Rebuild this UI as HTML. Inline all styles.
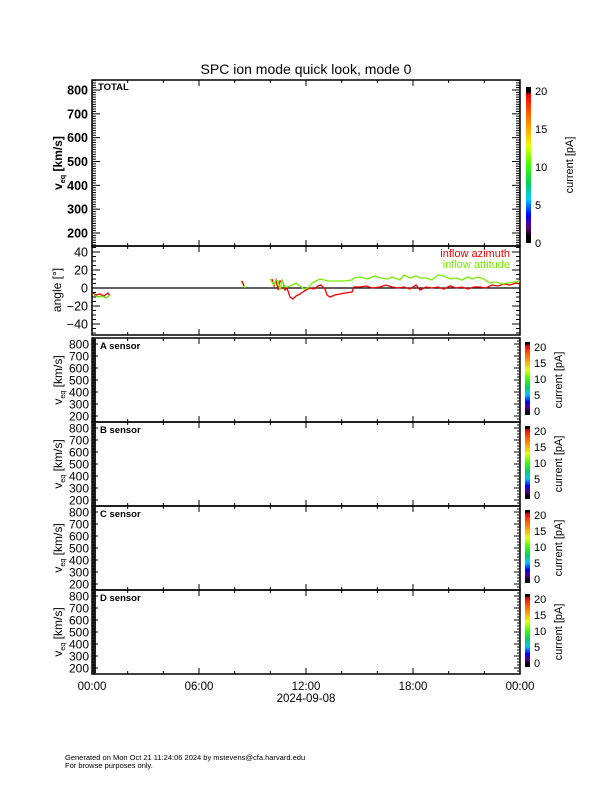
<!DOCTYPE html>
<html><head><meta charset="utf-8"><style>
body{margin:0;background:#fff}
svg{display:block;font-family:"Liberation Sans",Helvetica,sans-serif}
</style></head><body>
<svg id="s" width="612" height="792" viewBox="0 0 612 792" xmlns="http://www.w3.org/2000/svg">
<defs>
<linearGradient id="cb" x1="0" y1="1" x2="0" y2="0">
<stop offset="0" stop-color="#000"/>
<stop offset="0.04" stop-color="#000"/>
<stop offset="0.1" stop-color="#5a007a"/>
<stop offset="0.18" stop-color="#0000ff"/>
<stop offset="0.28" stop-color="#00c8ff"/>
<stop offset="0.38" stop-color="#00d060"/>
<stop offset="0.5" stop-color="#40ff00"/>
<stop offset="0.62" stop-color="#e8ff00"/>
<stop offset="0.72" stop-color="#ffb000"/>
<stop offset="0.85" stop-color="#ff5000"/>
<stop offset="0.95" stop-color="#ee0000"/>
<stop offset="0.97" stop-color="#000"/>
<stop offset="1" stop-color="#000"/>
</linearGradient>
</defs>
<text x="306" y="74" font-size="14" text-anchor="middle">SPC ion mode quick look, mode 0</text>
<g id="g" stroke="#000" fill="none"></g>
<g id="t" font-size="12.5" fill="#000"></g>
<line x1="92" y1="288" x2="520" y2="288" stroke="#000" stroke-width="1.2"/>
<polyline fill="none" stroke="#ee0000" stroke-width="1.3" points="93,293 96,295 100,294 104,296 108,293 110,296"/>
<polyline fill="none" stroke="#66dd00" stroke-width="1.3" points="94,295 98,297 102,296 106,298 110,295"/>
<polyline fill="none" stroke="#ee0000" stroke-width="1.3" points="272,279 274,286 276,280 278,290 280,281 283,282 285,290 287,288 290,297 293,299 296,296 300,294 303,292 306,290 310,288 314,289 318,286 321,285 325,289 327,295 330,297 335,295 340,294 345,293 352,292 354,287 360,287 366,286 372,288 380,287 386,285 392,287 398,288 404,287 410,289 416,285 420,290 426,287 432,288 438,287 444,289 450,286 456,288 462,287 468,289 474,287 480,287 486,288 492,285 498,286 504,284 510,285 516,283 520,284"/>
<polyline fill="none" stroke="#77ee00" stroke-width="1.3" points="270,279 274,285 276,280 278,281 280,290 282,280 285,287 288,287 292,285 296,283 300,286 304,289 308,288 312,283 316,281 320,279 324,280 328,281 336,281 344,281 352,280 354,278 360,277 368,279 374,276 380,278 388,279 392,277 400,280 404,275 410,278 416,276 420,278 426,278 432,280 438,275 444,276 450,279 456,278 462,280 468,277 472,279 478,277 484,279 490,283 496,282 502,284 508,283 514,282 520,281"/>
<polyline fill="none" stroke="#77ee00" stroke-width="1.3" points="241,281 243,284 245,288"/>
<polyline fill="none" stroke="#ee0000" stroke-width="1.3" points="242,281 244,286"/>
<text x="510" y="257" font-size="11" fill="#ee0000" text-anchor="end">inflow azimuth</text>
<text x="510" y="268" font-size="11" fill="#77ee00" text-anchor="end">inflow attitude</text>
<text x="98" y="90" font-size="9.5" font-weight="bold">TOTAL</text>
<text x="100" y="349" font-size="9.5" font-weight="bold">A sensor</text>
<text x="100" y="433" font-size="9.5" font-weight="bold">B sensor</text>
<text x="100" y="517" font-size="9.5" font-weight="bold">C sensor</text>
<text x="100" y="601" font-size="9.5" font-weight="bold">D sensor</text>
<g font-size="11.5" text-anchor="middle">
<text x="92" y="690">00:00</text><text x="199" y="690">06:00</text><text x="306" y="690">12:00</text><text x="413" y="690">18:00</text><text x="520" y="690">00:00</text>
<text x="306" y="702">2024-09-08</text>
</g>
<text x="65" y="760" font-size="7.5">Generated on Mon Oct 21 11:24:06 2024 by mstevens@cfa.harvard.edu</text>
<text x="65" y="768" font-size="7.5">For browse purposes only.</text>
</svg>
<script>
var g=document.getElementById('g'),t=document.getElementById('t'),NS='http://www.w3.org/2000/svg';
function el(p,n,a,txt){var e=document.createElementNS(NS,n);for(var k in a)e.setAttribute(k,a[k]);if(txt!==undefined)e.textContent=txt;p.appendChild(e);return e;}
function vlabel(x,y,bold,fs){var e=el(t,'text',{transform:'translate('+x+','+y+') rotate(-90)','text-anchor':'middle','font-size':fs,'font-weight':bold?'bold':'normal'});
el(e,'tspan',{},'v');el(e,'tspan',{dy:3,'font-size':fs*0.6},'eq');el(e,'tspan',{dy:-3},' [km/s]');}
var L=92,R=520;
function xticks(top,bot){for(var h=0;h<=24;h+=2){var x=L+h*428/24,len=(h%6==0)?6:3;el(g,'line',{x1:x,x2:x,y1:top,y2:top+len});el(g,'line',{x1:x,x2:x,y1:bot,y2:bot-len});}}
function panel(top,bot){el(g,'rect',{x:L,y:top,width:R-L,height:bot-top,'stroke-width':1.5});xticks(top,bot);}
panel(80,246);
var f=function(v){return 90+(800-v)*143/600;};
for(var v=150;v<=840;v+=10){var y=f(v);if(y<80||y>246)continue;var m=v%100==0,len=m?8:4;el(g,'line',{x1:L,x2:L+len,y1:y,y2:y});el(g,'line',{x1:R,x2:R-len,y1:y,y2:y});if(m)el(t,'text',{x:88,y:y+4.5,'text-anchor':'end','font-weight':'bold'},v);}
vlabel(62,163,true,12);
panel(246,335);
var fa=function(a){return 288-a*0.9;};
for(var a=-50;a<=45;a+=5){var y=fa(a);if(y<247||y>334)continue;var m=a%20==0,len=m?8:4;el(g,'line',{x1:L,x2:L+len,y1:y,y2:y});el(g,'line',{x1:R,x2:R-len,y1:y,y2:y});if(m)el(t,'text',{x:88,y:y+4.5,'text-anchor':'end'},a==0?'0':(a<0?'\u2212'+(-a):a));}
el(t,'text',{transform:'translate(61,290) rotate(-90)','text-anchor':'middle','font-size':12},'angle [°]');
el(g,'rect',{x:526,y:87,width:5,height:156,fill:'url(#cb)',stroke:'none'});
[0,5,10,15,20].forEach(function(v){el(t,'text',{x:535,y:243-v*7.6+4,'font-size':11},v);});
el(t,'text',{transform:'translate(573,165) rotate(-90)','text-anchor':'middle','font-size':11},'current [pA]');
[338,422,506,590].forEach(function(top){var bot=top+84;panel(top,bot);
el(g,'rect',{x:92,y:top,width:4,height:84,fill:'#222',stroke:'none'});
for(var v=150;v<=850;v+=25){var y=top+6+(800-v)*0.12;if(y<top||y>bot)continue;var m=v%100==0,len=m?6:3;el(g,'line',{x1:L,x2:L+len,y1:y,y2:y});el(g,'line',{x1:R,x2:R-len,y1:y,y2:y});if(m)el(t,'text',{x:89,y:y+4.5,'text-anchor':'end','font-size':12},v);}
el(g,'rect',{x:525,y:top+4,width:5,height:73,fill:'url(#cb)',stroke:'none'});
[[0,top+73],[5,top+57],[10,top+41],[15,top+25],[20,top+9]].forEach(function(p){el(t,'text',{x:534,y:p[1]+4,'font-size':11},p[0]);});
el(t,'text',{transform:'translate('+562+','+(top+42)+') rotate(-90)','text-anchor':'middle','font-size':11},'current [pA]');
vlabel(62,top+42,false,12);
});
</script>
</body></html>
